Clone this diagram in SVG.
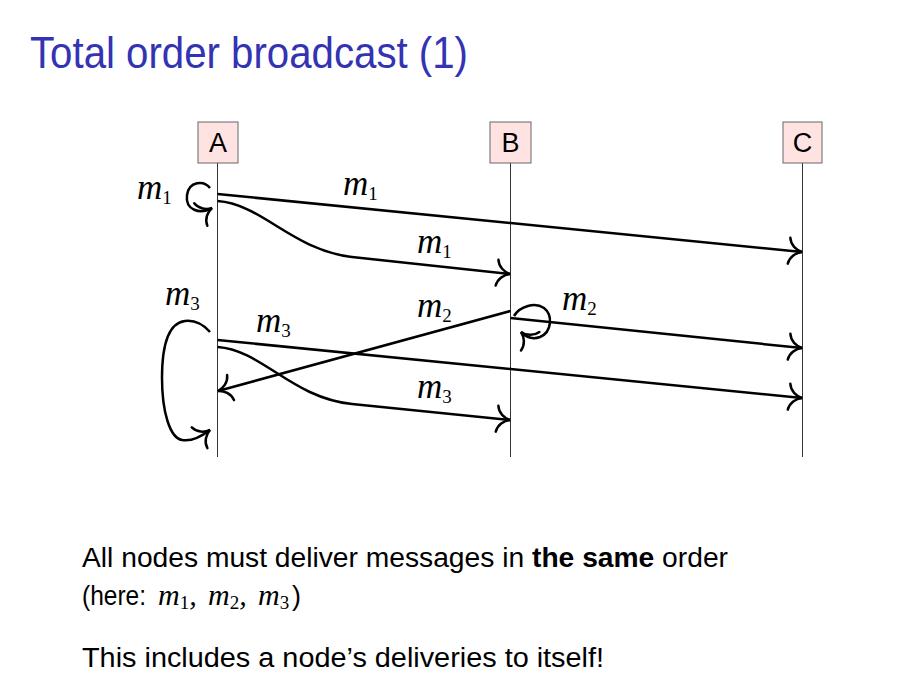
<svg xmlns="http://www.w3.org/2000/svg" width="924" height="680" viewBox="0 0 924 680">
<style>
.box{fill:#ffe3e3;stroke:#666;stroke-width:1}
.life{stroke:#333;stroke-width:1}
.nl{font-family:"Liberation Sans",Arial,sans-serif;font-size:27px;fill:#000;text-anchor:middle}
.msg{fill:none;stroke:#000;stroke-width:2.5;marker-end:url(#to)}
.mi{font-family:"Liberation Serif","Times New Roman",serif;font-style:italic;font-size:35px;fill:#000}
.sub{font-family:"Liberation Serif","Times New Roman",serif;font-style:normal;font-size:19px}
.body{font-family:"Liberation Sans",Arial,sans-serif;font-size:27px;fill:#000}
.bmi{font-family:"Liberation Serif","Times New Roman",serif;font-style:italic;font-size:30px}
.bsub{font-family:"Liberation Serif","Times New Roman",serif;font-style:normal;font-size:19px}
</style>
<defs>
<marker id="to" markerUnits="userSpaceOnUse" viewBox="-16 -16 18 32" markerWidth="18" markerHeight="32" refX="0" refY="0" orient="auto" overflow="visible">
<path d="M -13 -13 C -12 -6, -6 -1.2, 0 0 C -6 1.2, -12 6, -13 13" fill="none" stroke="#000" stroke-width="2.5" stroke-linecap="round"/>
</marker>
</defs>
<rect width="924" height="680" fill="#fff"/>
<text x="30" y="68" font-family="'Liberation Sans',Arial,sans-serif" font-size="44" fill="#3333b3" textLength="438" lengthAdjust="spacingAndGlyphs">Total order broadcast (1)</text>

<g id="node-A">
<line class="life" x1="217.5" y1="163" x2="217.5" y2="457"/>
<rect class="box" x="198" y="122" width="40" height="41"/>
<text class="nl" x="218" y="152">A</text>
</g>
<g id="node-B">
<line class="life" x1="510.5" y1="163" x2="510.5" y2="457"/>
<rect class="box" x="490" y="122" width="41" height="41"/>
<text class="nl" x="510.5" y="152">B</text>
</g>
<g id="node-C">
<line class="life" x1="802.5" y1="163" x2="802.5" y2="457"/>
<rect class="box" x="783" y="122" width="39" height="41"/>
<text class="nl" x="802.5" y="152">C</text>
</g>

<g id="connectors">
<path class="msg" d="M 210 188 C 204 180, 189 181, 187 195 C 185 210, 200 215, 212 208"/>
<path class="msg" d="M 217.5 194 L 802 252"/>
<path class="msg" d="M 217.5 201 C 262 204, 292 250, 352 257 L 510 274"/>
<path class="msg" d="M 210 332 C 202 323, 194 320, 185 321 C 168 323, 162 345, 162 378 C 162 412, 170 438, 182 440 C 192 442, 202 436, 210 430"/>
<path class="msg" d="M 510.5 311 L 218 391"/>
<path class="msg" d="M 514 316 C 520 306, 535 302, 544 308 C 553 315, 552 332, 540 337 C 532 340, 525 336, 521 332"/>
<path class="msg" d="M 510.5 318 L 802 348"/>
<path class="msg" d="M 217.5 340 L 802 398"/>
<path class="msg" d="M 217.5 347 C 262 350, 292 398, 352 404 L 510 420"/>
</g>

<g id="labels">
<text class="mi" x="137" y="199">m<tspan class="sub" dy="5">1</tspan></text>
<text class="mi" x="343" y="195">m<tspan class="sub" dy="5">1</tspan></text>
<text class="mi" x="417" y="253">m<tspan class="sub" dy="5">1</tspan></text>
<text class="mi" x="165" y="305">m<tspan class="sub" dy="5">3</tspan></text>
<text class="mi" x="256" y="332">m<tspan class="sub" dy="5">3</tspan></text>
<text class="mi" x="417" y="317">m<tspan class="sub" dy="5">2</tspan></text>
<text class="mi" x="417" y="398">m<tspan class="sub" dy="5">3</tspan></text>
<text class="mi" x="562" y="310">m<tspan class="sub" dy="5">2</tspan></text>
</g>

<g id="text">
<text class="body" x="82" y="567" textLength="646" lengthAdjust="spacingAndGlyphs">All nodes must deliver messages in <tspan font-weight="bold">the same</tspan> order</text>
<text class="body" x="82" y="605" textLength="64" lengthAdjust="spacingAndGlyphs">(here:</text>
<text class="body" x="158" y="605"><tspan class="bmi">m</tspan><tspan class="bsub" dy="4">1</tspan><tspan class="bmi" dy="-4">,</tspan><tspan class="bmi" x="208">m</tspan><tspan class="bsub" dy="4">2</tspan><tspan class="bmi" dy="-4">,</tspan><tspan class="bmi" x="258">m</tspan><tspan class="bsub" dy="4">3</tspan><tspan dy="-4" x="292">)</tspan></text>
<text class="body" x="82" y="667" textLength="522" lengthAdjust="spacingAndGlyphs">This includes a node’s deliveries to itself!</text>
</g>
</svg>
